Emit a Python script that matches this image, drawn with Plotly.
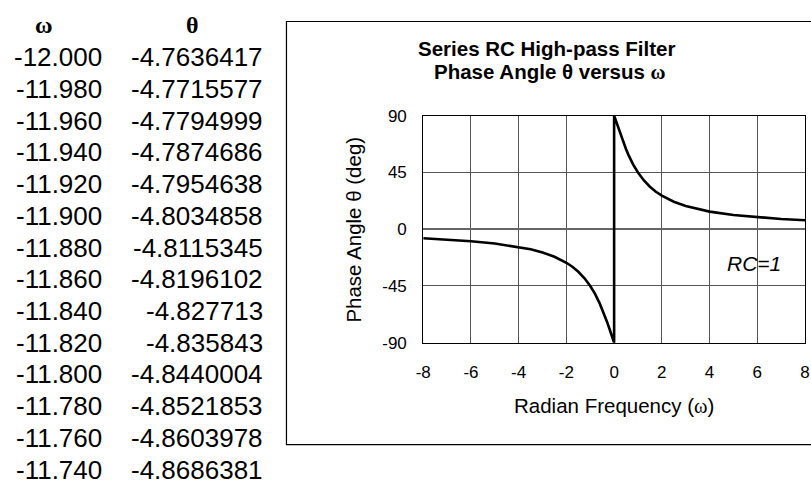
import plotly.graph_objects as go

W, H = 811, 497

# ---- data ----
table_omega = ["-12.000", "-11.980", "-11.960", "-11.940", "-11.920", "-11.900", "-11.880",
               "-11.860", "-11.840", "-11.820", "-11.800", "-11.780", "-11.760", "-11.740"]
table_theta = ["-4.7636417", "-4.7715577", "-4.7794999", "-4.7874686", "-4.7954638", "-4.8034858",
               "-4.8115345", "-4.8196102", "-4.827713", "-4.835843", "-4.8440004", "-4.8521853",
               "-4.8603978", "-4.8686381"]

omega_values = [-8, -7, -6, -5, -4, -3.5, -3, -2.5, -2, -1.75, -1.5, -1.25, -1, -0.8, -0.6,
                -0.5, -0.4, -0.3, -0.2, -0.1, 0,
                0, 0.1, 0.2, 0.3, 0.4, 0.5, 0.6, 0.8, 1, 1.25, 1.5, 1.75, 2, 2.5, 3, 3.5,
                4, 5, 6, 7, 8]
theta_values = [-7.1, -8.1, -9.5, -11.3, -14.0, -15.9, -18.4, -21.8, -26.6, -29.7, -33.7, -38.7,
                -45.0, -51.3, -59.0, -63.4, -68.2, -73.3, -78.7, -84.3, -90,
                90, 84.3, 78.7, 73.3, 68.2, 63.4, 59.0, 51.3, 45.0, 38.7, 33.7, 29.7, 26.6,
                21.8, 18.4, 15.9, 14.0, 11.3, 9.5, 8.1, 7.1]

x_ticks = [-8, -6, -4, -2, 0, 2, 4, 6, 8]
y_ticks = [-90, -45, 0, 45, 90]


def px(x):
    return x / W


def py(y):
    return 1 - y / H


FONT = "Liberation Sans, Arial, sans-serif"
GREEK = "Liberation Serif, Times New Roman, serif"

fig = go.Figure()
fig.add_trace(go.Scatter(x=omega_values, y=theta_values, mode="lines",
                         line=dict(color="black", width=2.6), hoverinfo="skip",
                         showlegend=False))

annotations = []
# table
annotations.append(dict(x=px(37), y=py(17), xref="paper", yref="paper", showarrow=False,
                        text="<b>ω</b>", font=dict(size=24, family=GREEK, color="black"),
                        xanchor="center", yanchor="middle"))
annotations.append(dict(x=px(188), y=py(17), xref="paper", yref="paper", showarrow=False,
                        text="<b>θ</b>", font=dict(size=24, family=GREEK, color="black"),
                        xanchor="center", yanchor="middle"))
for i, (a, b) in enumerate(zip(table_omega, table_theta)):
    yc = 50 + 33 * i
    annotations.append(dict(x=px(98), y=py(yc), xref="paper", yref="paper", showarrow=False,
                            text=a, font=dict(size=26, family=FONT, color="black"),
                            xanchor="right", yanchor="middle"))
    annotations.append(dict(x=px(261), y=py(yc), xref="paper", yref="paper", showarrow=False,
                            text=b, font=dict(size=26, family=FONT, color="black"),
                            xanchor="right", yanchor="middle"))

# chart titles
annotations.append(dict(x=px(547), y=py(41), xref="paper", yref="paper", showarrow=False,
                        text="<b>Series RC High-pass Filter</b>",
                        font=dict(size=20.5, family=FONT, color="black"),
                        xanchor="center", yanchor="middle"))
annotations.append(dict(x=px(551), y=py(65), xref="paper", yref="paper", showarrow=False,
                        text="<b>Phase Angle θ versus <span style='font-family:Liberation Serif'>ω</span></b>",
                        font=dict(size=20.5, family=FONT, color="black"),
                        xanchor="center", yanchor="middle"))
annotations.append(dict(x=px(616), y=py(412), xref="paper", yref="paper", showarrow=False,
                        text="Radian Frequency (<span style='font-family:Liberation Serif'>ω</span>)",
                        font=dict(size=20.5, family=FONT, color="black"),
                        xanchor="center", yanchor="middle"))
annotations.append(dict(x=px(351), y=py(229), xref="paper", yref="paper", showarrow=False,
                        text="Phase Angle θ (deg)", textangle=-90,
                        font=dict(size=20.5, family=FONT, color="black"),
                        xanchor="center", yanchor="middle"))
annotations.append(dict(x=5.85, y=-27, xref="x", yref="y", showarrow=False,
                        text="<i>RC=1</i>", font=dict(size=21, family=FONT, color="black"),
                        xanchor="center", yanchor="middle"))

shapes = [dict(type="rect", xref="paper", yref="paper", x0=px(283), x1=px(830),
               y0=py(453), y1=py(13), line=dict(color="black", width=1.2))]

fig.update_layout(
    width=W, height=H, margin=dict(l=0, r=0, t=0, b=0),
    paper_bgcolor="white", plot_bgcolor="white",
    annotations=annotations, shapes=shapes,
    font=dict(family=FONT, color="black"),
    xaxis=dict(domain=[px(422), px(810)], range=[-8, 8], tickvals=x_ticks,
               ticktext=[str(v) for v in x_ticks], showgrid=True, gridcolor="#555555",
               gridwidth=1, showline=True, mirror=True, linecolor="black", linewidth=1,
               zeroline=False, ticks="", ticklabelstandoff=14, ticklabeloverflow="allow",
               tickfont=dict(size=17, family=FONT, color="black")),
    yaxis=dict(domain=[py(347), py(111)], range=[-90, 90], tickvals=y_ticks,
               ticktext=[str(v) for v in y_ticks], showgrid=True, gridcolor="#555555",
               gridwidth=1, showline=True, mirror=True, linecolor="black", linewidth=1,
               zeroline=True, zerolinecolor="#666666", zerolinewidth=1.5,
               ticks="", ticklabelstandoff=12,
               tickfont=dict(size=17, family=FONT, color="black")),
)

fig.write_html("out.html", config={"displayModeBar": False},
               post_script="document.body.style.margin='0';document.body.style.overflow='hidden';")
